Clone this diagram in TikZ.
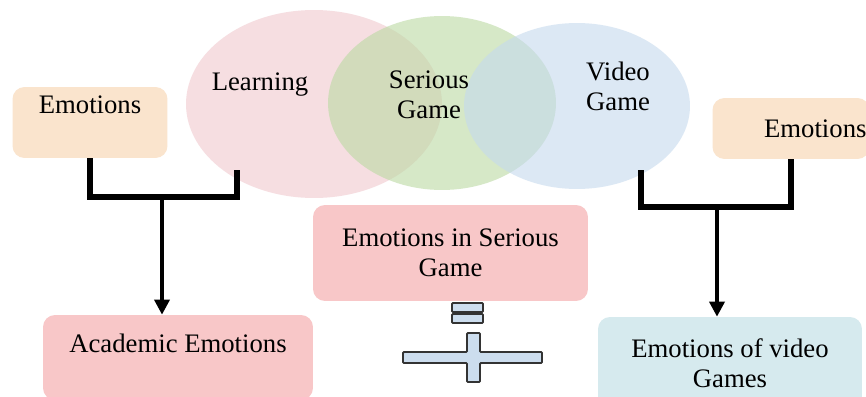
\documentclass[tikz,border=0pt]{standalone}
\usepackage{fontspec}
\setmainfont{Liberation Serif}
\usetikzlibrary{arrows.meta,shapes.geometric}
\definecolor{peach}{RGB}{250,228,205}
\definecolor{rosebox}{RGB}{248,199,200}
\definecolor{tealbox}{RGB}{214,234,238}
\definecolor{vennpink}{RGB}{240,200,205}
\definecolor{venngreen}{RGB}{187,217,163}
\definecolor{vennblue}{RGB}{197,217,238}
\definecolor{symfill}{RGB}{204,221,238}
\tikzset{
  venn/.style={ellipse,fill opacity=.6,inner sep=0pt},
  box/.style={rounded corners=.24cm,inner sep=0pt,align=center,
    font=\fontsize{15.2}{17}\selectfont},
  word/.style={align=center,font=\fontsize{15.2}{17}\selectfont},
  bracket/.style={line width=3pt},
  stem/.style={line width=2pt,-{Triangle[width=8.5pt,length=8.5pt]}},
  symb/.style={draw=black!80,line width=1.1pt,fill=symfill,rounded corners=.5pt}
}
\begin{document}
\begin{tikzpicture}[x=.02cm,y=-.02cm]
\path [clip] (0,0) rectangle (866,396);
\fill [white] (0,0) rectangle (866,396);
% venn of the three fields
\node [venn,fill=vennpink,minimum width=5.12cm,minimum height=3.76cm] (learn) at (314,104) {};
\node [venn,fill=venngreen,minimum width=4.56cm,minimum height=3.48cm] (serious) at (442,103) {};
\node [venn,fill=vennblue,minimum width=4.52cm,minimum height=3.32cm] (video) at (577,106) {};
\node [word] (learntxt) at (260,85) {Learning};
\node [word] (serioustxt) at (429,95) {Serious\\Game};
\node [word] (videotxt) at (618,86) {Video\\Game};
% boxes
\node [box,fill=peach,minimum width=3.1cm,minimum height=1.42cm,text height=.52cm,text depth=.9cm] (emoL) at (90,122.5) {Emotions};
\node [box,fill=peach,minimum width=3.14cm,minimum height=1.22cm,text width=3.02cm,align=right] (emoR) at (791,128.5) {Emotions};
\node [box,fill=rosebox,minimum width=5.4cm,minimum height=1.7cm,text height=.74cm,text depth=.96cm] (acad) at (178,357.5) {Academic Emotions};
\node [box,fill=rosebox,minimum width=5.5cm,minimum height=1.92cm] (esg) at (450.5,253) {Emotions in Serious\\Game};
\node [box,fill=tealbox,minimum width=5.28cm,minimum height=1.84cm] (vidgame) at (730,363) {Emotions of video\\Games};
% brackets and arrows
\coordinate (learnfoot) at (237,170);
\coordinate (videofoot) at (641,170);
\coordinate (joinL) at (162,197);
\coordinate (joinR) at (717,207);
\draw [bracket] (emoL.south) |- (learnfoot |- joinL) -- (learnfoot);
\draw [stem] (joinL) -- (joinL |- acad.north);
\draw [bracket] (videofoot) |- (emoR.south |- joinR) -- (emoR.south);
\draw [stem] (joinR) -- (joinR |- vidgame.north);
% equals and plus
\draw [symb] (452,303) rectangle (483,312);
\draw [symb] (452,314) rectangle (483,323);
\draw [symb] (403,352) -- (467,352) -- (467,333) -- (480,333) -- (480,352) -- (542,352)
  -- (542,363) -- (480,363) -- (480,382) -- (467,382) -- (467,363) -- (403,363) -- cycle;
\end{tikzpicture}
\end{document}
